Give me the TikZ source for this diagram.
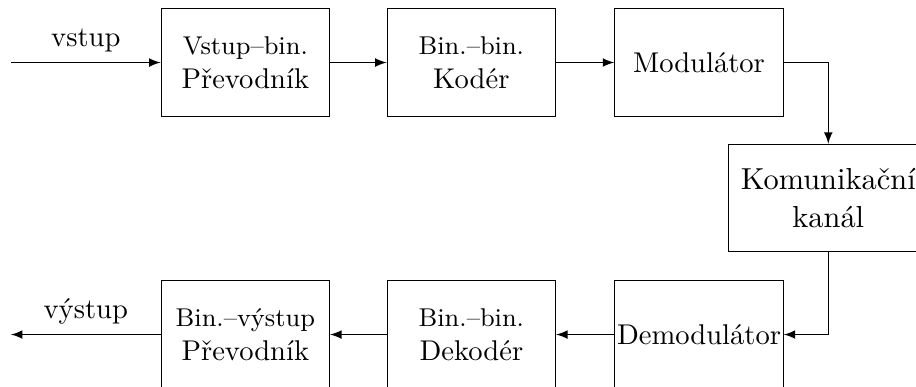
\documentclass[tikz,border=0pt]{standalone}
\usepackage{tikz}
\usetikzlibrary{arrows}

\begin{document}
\begin{tikzpicture}[blok/.style = {draw, minimum width = 2.07cm, minimum height = 1.32cm, inner sep = 0pt, align = center}]
    \useasboundingbox (-3.018, 0.769) rectangle (8.249, -3.991);

    % top row
    \node [blok] (vb) at (0, 0) {{\small Vstup--bin.}\\Převodník};
    \node [blok] (kod) at (2.78, 0) {{\small Bin.--bin.}\\Kodér};
    \node [blok] (mod) at (5.58, 0) {Modulátor};
    % channel on the right, a bit wider
    \node [blok, minimum width = 2.46cm, font = \fontsize{10.64}{13}\selectfont] (kan) at (7.17, -1.667) {Komunikační\\kanál};
    % bottom row
    \node [blok] (demod) at (5.58, -3.346) {Demodulátor};
    \node [blok] (dek) at (2.78, -3.346) {{\small Bin.--bin.}\\Dekodér};
    \node [blok] (vyst) at (0, -3.346) {{\small Bin.--výstup}\\Převodník};

    \coordinate (in) at (-2.883, 0);
    \coordinate (out) at (-2.883, -3.346);

    \draw [-latex] (in) -- node [above] {vstup} (vb);
    \draw [-latex] (vb) -- (kod);
    \draw [-latex] (kod) -- (mod);
    \draw [-latex] (mod.east) -| (kan.north);
    \draw [-latex] (kan.south) |- (demod.east);
    \draw [-latex] (demod) -- (dek);
    \draw [-latex] (dek) -- (vyst);
    \draw [-latex] (vyst) -- node [above] {výstup} (out);
\end{tikzpicture}
\end{document}
